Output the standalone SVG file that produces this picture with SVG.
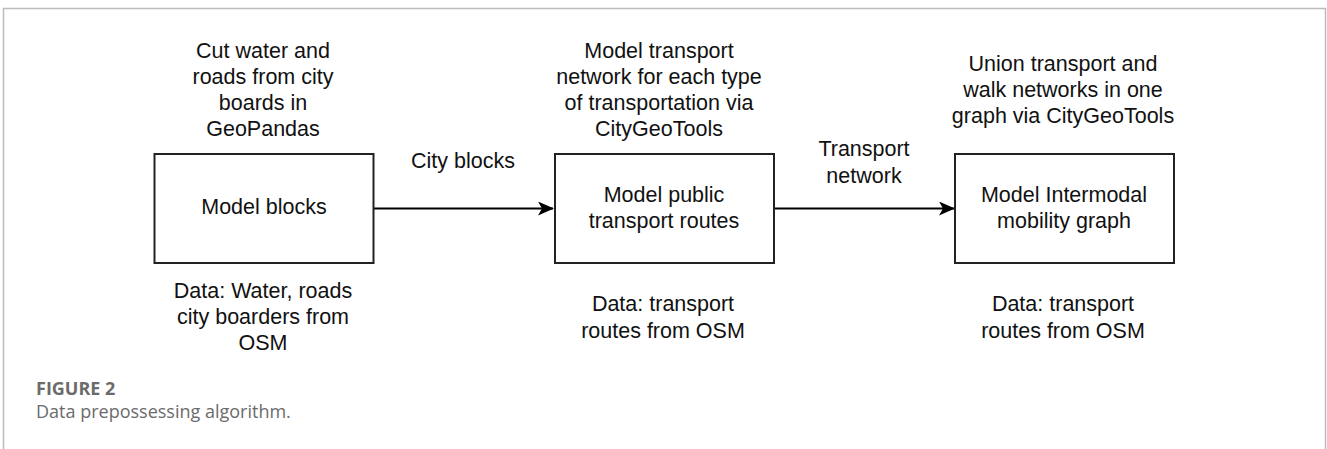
<svg xmlns="http://www.w3.org/2000/svg" width="1327" height="449" viewBox="0 0 1327 449">
<style>
.box{fill:#fff;stroke:#222;stroke-width:2}
.t{font-family:"Liberation Sans",Arial,sans-serif;font-size:21.5px;fill:#111;text-anchor:middle}
.edge{stroke:#000;stroke-width:2;fill:none}
.cap{font-family:"Open Sans",sans-serif;font-size:18px;fill:#6b6b6b}
</style>
<defs>
<marker id="arr" viewBox="0 0 16 14" refX="15" refY="7" markerWidth="16" markerHeight="14" markerUnits="userSpaceOnUse" orient="auto">
<path d="M0,0 L16,7 L0,14 L4,7 Z" fill="#000"/>
</marker>
</defs>
<rect width="1327" height="449" fill="#fff"/>
<path d="M3.5,449 V8.5 H1325.5 V449" fill="none" stroke="#bbb" stroke-width="1.5"/>
<g id="connectors">
<line class="edge" x1="374" y1="208.5" x2="553" y2="208.5" marker-end="url(#arr)"/>
<line class="edge" x1="774" y1="208.5" x2="954" y2="208.5" marker-end="url(#arr)"/>
<text class="t" x="463" y="168">City blocks</text>
<text class="t" x="864" y="156">Transport</text>
<text class="t" x="864" y="183">network</text>
</g>
<g id="node1">
<text class="t" x="263" y="58">Cut water and</text>
<text class="t" x="263" y="84">roads from city</text>
<text class="t" x="263" y="110">boards in</text>
<text class="t" x="263" y="136">GeoPandas</text>
<rect class="box" x="154.5" y="154" width="219" height="109"/>
<text class="t" x="264" y="214">Model blocks</text>
<text class="t" x="263" y="298">Data: Water, roads</text>
<text class="t" x="263" y="324">city boarders from</text>
<text class="t" x="263" y="350">OSM</text>
</g>
<g id="node2">
<text class="t" x="659" y="58">Model transport</text>
<text class="t" x="659" y="84">network for each type</text>
<text class="t" x="659" y="110">of transportation via</text>
<text class="t" x="659" y="136">CityGeoTools</text>
<rect class="box" x="555" y="154" width="219" height="109"/>
<text class="t" x="664" y="202">Model public</text>
<text class="t" x="664" y="228">transport routes</text>
<text class="t" x="663" y="311">Data: transport</text>
<text class="t" x="663" y="338">routes from OSM</text>
</g>
<g id="node3">
<text class="t" x="1063" y="71">Union transport and</text>
<text class="t" x="1063" y="97">walk networks in one</text>
<text class="t" x="1063" y="123">graph via CityGeoTools</text>
<rect class="box" x="955" y="154" width="219" height="109"/>
<text class="t" x="1064" y="202">Model Intermodal</text>
<text class="t" x="1064" y="228">mobility graph</text>
<text class="t" x="1063" y="311">Data: transport</text>
<text class="t" x="1063" y="338">routes from OSM</text>
</g>
<g id="caption">
<text class="cap" x="36" y="395" font-weight="bold">FIGURE 2</text>
<text class="cap" x="36" y="418">Data prepossessing algorithm.</text>
</g>
</svg>
